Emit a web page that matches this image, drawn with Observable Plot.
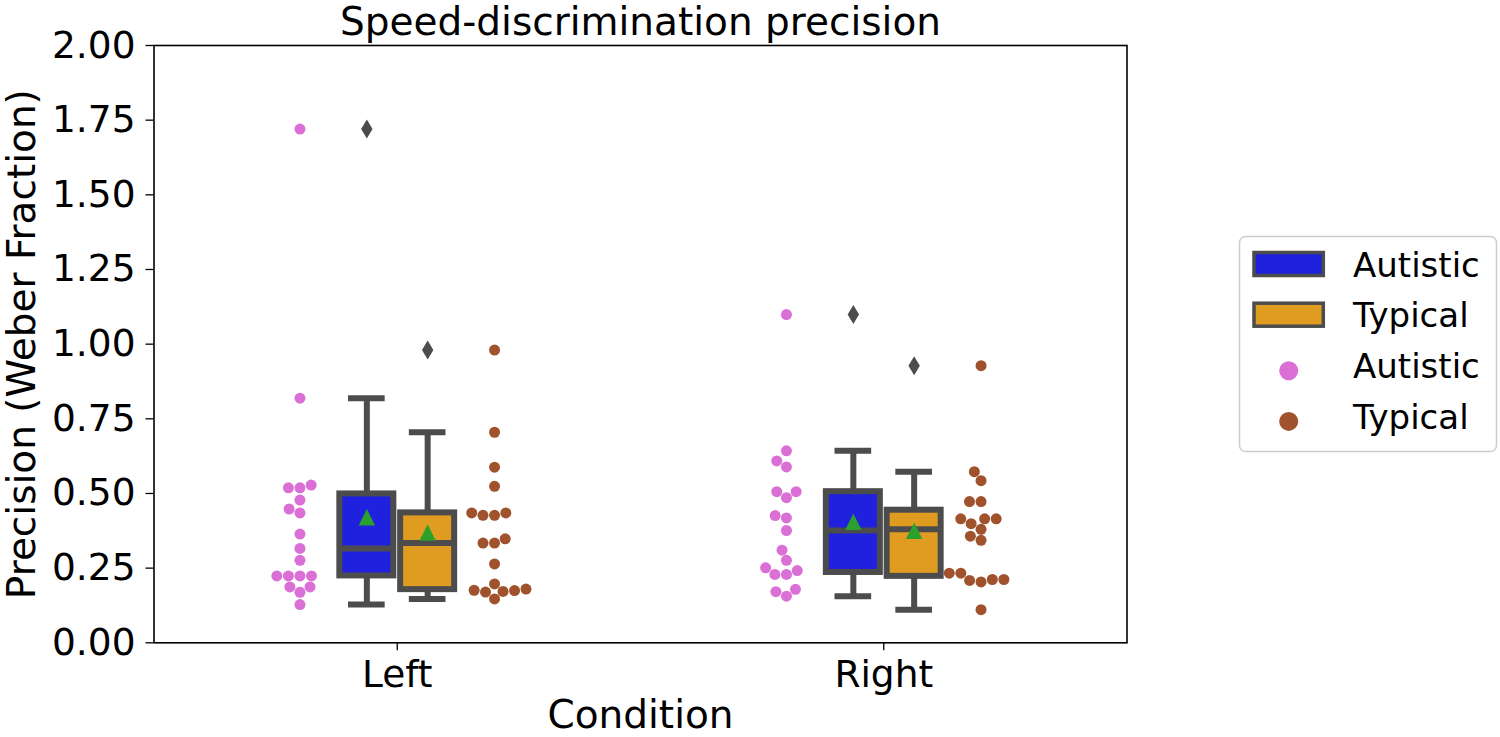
<!DOCTYPE html>
<html><head><meta charset="utf-8">
<script src="https://cdn.jsdelivr.net/npm/d3@7"></script>
<script src="https://cdn.jsdelivr.net/npm/@observablehq/plot@0.6"></script>
<style>
body{margin:0;background:#fff}
#wrap{position:relative;width:1500px;height:737px}
#legend{position:absolute;left:0;top:0;pointer-events:none}
</style>
</head><body><div id="wrap"></div>
<script>
// ---- data ----
const conditions = ["Left", "Right"];
const groups = ["Autistic", "Typical"];
const leftAutistic  = [1.72, 0.819, 0.528, 0.519, 0.519, 0.478, 0.448, 0.435, 0.364, 0.316, 0.276, 0.224, 0.224, 0.224, 0.224, 0.187, 0.187, 0.169, 0.128];
const leftTypical   = [0.98, 0.705, 0.588, 0.524, 0.435, 0.435, 0.427, 0.427, 0.348, 0.334, 0.334, 0.264, 0.197, 0.180, 0.176, 0.175, 0.172, 0.170, 0.147];
const rightAutistic = [1.099, 0.643, 0.609, 0.589, 0.506, 0.506, 0.486, 0.426, 0.418, 0.376, 0.310, 0.276, 0.251, 0.242, 0.229, 0.229, 0.179, 0.171, 0.156];
const rightTypical  = [0.928, 0.573, 0.543, 0.473, 0.473, 0.415, 0.415, 0.415, 0.399, 0.380, 0.357, 0.343, 0.233, 0.233, 0.212, 0.212, 0.209, 0.204, 0.111];
const yTicks = [0, 0.25, 0.5, 0.75, 1, 1.25, 1.5, 1.75, 2];
const title = "Speed-discrimination precision";
const xLabel = "Condition";
const yLabel = "Precision (Weber Fraction)";

// ---- styles ----
const boxColors = ["#2020df", "#df9c20"];
const dotColors = ["#da70d6", "#a0522d"];
const lineGray = "#4c4c4c";
const meanGreen = "#2ca02c";
const FONT = "DejaVu Sans";
const TICK_FS = 37.5, LABEL_FS = 39, TITLE_FS = 39, LEGEND_FS = 34;

const values = [[leftAutistic, leftTypical], [rightAutistic, rightTypical]];

const W = 1500, H = 737, ML = 153.5, MR = 373.5, MT = 45, MB = 94.7;
const yPx = d3.scaleLinear([0, 2], [H - MB, MT]);
const pxPerUnitX = (W - ML - MR) / 2;
const swarmOffset = 0.2, boxOffset = 0.0625, boxHalf = 0.0555, capHalf = 0.0315;
const D = 11; // swarm point spacing in px

function beeswarm(vals) {
  const pts = vals.slice().sort((a, b) => a - b).map(v => ({v, py: yPx(v), px: 0}));
  const placed = [];
  for (const p of pts) {
    const nb = placed.filter(q => Math.abs(q.py - p.py) < D);
    const cand = [0];
    for (const q of nb) {
      const dy = p.py - q.py;
      const dx = Math.sqrt(Math.max(D * D - dy * dy, 0)) * 1.05;
      cand.push(q.px - dx, q.px + dx);
    }
    const order = cand.map((c, i) => [c, i]).sort((a, b) => Math.abs(a[0]) - Math.abs(b[0]) || a[1] - b[1]);
    let chosen = 0;
    for (const [c] of order) {
      if (nb.every(q => (q.px - c) ** 2 + (q.py - p.py) ** 2 >= D * D - 1e-6)) { chosen = c; break; }
    }
    p.px = chosen;
    placed.push(p);
  }
  return pts;
}

const stats = [], outliers = [], swarm = [];
conditions.forEach((c, i) => groups.forEach((g, j) => {
  const vals = values[i][j];
  const s = vals.slice().sort(d3.ascending);
  const q1 = d3.quantileSorted(s, 0.25), med = d3.quantileSorted(s, 0.5), q3 = d3.quantileSorted(s, 0.75);
  const iqr = q3 - q1;
  const lo = d3.min(s.filter(v => v >= q1 - 1.5 * iqr));
  const hi = d3.max(s.filter(v => v <= q3 + 1.5 * iqr));
  const xc = i + (j ? boxOffset : -boxOffset);
  stats.push({xc, q1, med, q3, lo, hi, mean: d3.mean(s), fill: boxColors[j]});
  s.filter(v => v < lo || v > hi).forEach(v => outliers.push({x: xc, v}));
  beeswarm(vals).forEach(p => swarm.push({x: i + (j ? swarmOffset : -swarmOffset) + p.px / pxPerUnitX, v: p.v, fill: dotColors[j]}));
}));

const triangleUp = {draw(ctx, size) { const a = Math.sqrt(size / 2); ctx.moveTo(0, -a); ctx.lineTo(a, a); ctx.lineTo(-a, a); ctx.closePath(); }};
const thinDiamond = {draw(ctx, size) { const b = Math.sqrt(size / 1.2), a = 0.6 * b; ctx.moveTo(0, -b); ctx.lineTo(a, 0); ctx.lineTo(0, b); ctx.lineTo(-a, 0); ctx.closePath(); }};

const lineOpts = {stroke: lineGray, strokeWidth: 6};

const chart = Plot.plot({
  width: W, height: H,
  marginLeft: ML, marginRight: MR, marginTop: MT, marginBottom: MB,
  style: {fontFamily: FONT, fontSize: TICK_FS + "px", background: "white", color: "black", overflow: "visible"},
  x: {domain: [-0.5, 1.5]},
  y: {domain: [0, 2]},
  color: {type: "identity"},
  marks: [
    Plot.axisY({ticks: yTicks, tickFormat: d3.format(".2f"), tickSize: 8, tickPadding: 10.5, label: null, fontSize: TICK_FS, strokeWidth: 1.3}),
    Plot.axisX({ticks: [0, 1], tickFormat: i => conditions[i], tickSize: 8, tickPadding: 9.8, label: null, fontSize: TICK_FS, strokeWidth: 1.3}),
    Plot.ruleX(stats, {x: "xc", y1: "q3", y2: "hi", ...lineOpts}),
    Plot.ruleX(stats, {x: "xc", y1: "lo", y2: "q1", ...lineOpts}),
    Plot.ruleY(stats, {y: "hi", x1: d => d.xc - capHalf, x2: d => d.xc + capHalf, ...lineOpts, strokeLinecap: "square"}),
    Plot.ruleY(stats, {y: "lo", x1: d => d.xc - capHalf, x2: d => d.xc + capHalf, ...lineOpts, strokeLinecap: "square"}),
    Plot.rect(stats, {x1: d => d.xc - boxHalf, x2: d => d.xc + boxHalf, y1: "q1", y2: "q3", fill: "fill", ...lineOpts}),
    Plot.ruleY(stats, {y: "med", x1: d => d.xc - boxHalf, x2: d => d.xc + boxHalf, ...lineOpts}),
    Plot.dot(stats, {x: "xc", y: "mean", symbol: triangleUp, r: 6.54, fill: meanGreen}),
    Plot.dot(outliers, {x: "x", y: "v", symbol: thinDiamond, r: 5.87, fill: lineGray}),
    Plot.dot(swarm, {x: "x", y: "v", r: 5.5, fill: "fill"}),
    Plot.frame({stroke: "black", strokeWidth: 1.6}),
    Plot.text([title], {frameAnchor: "top", dy: -10.5, lineAnchor: "bottom", fontSize: TITLE_FS, fill: "black"}),
    Plot.text([xLabel], {frameAnchor: "bottom", dy: 85.5, lineAnchor: "bottom", fontSize: LABEL_FS, fill: "black"}),
    Plot.text([yLabel], {frameAnchor: "left", rotate: -90, dx: -119.5, lineAnchor: "bottom", textAnchor: "middle", fontSize: LABEL_FS, fill: "black"})
  ]
});
document.getElementById("wrap").appendChild(chart);

// ---- legend ----
const lg = d3.select("#wrap").append("svg").attr("id", "legend").attr("width", W).attr("height", H)
  .style("font-family", FONT).style("font-size", LEGEND_FS + "px");
lg.append("rect").attr("x", 1239.5).attr("y", 236.5).attr("width", 257).attr("height", 215).attr("rx", 6)
  .attr("fill", "white").attr("stroke", "#cccccc").attr("stroke-width", 1.5);
const entries = [
  {type: "box", label: groups[0], color: boxColors[0]},
  {type: "box", label: groups[1], color: boxColors[1]},
  {type: "dot", label: groups[0], color: dotColors[0]},
  {type: "dot", label: groups[1], color: dotColors[1]}
];
entries.forEach((e, k) => {
  const base = 276.7 + k * 50.7;
  const cy = base - 12.7;
  if (e.type === "box") {
    lg.append("rect").attr("x", 1254).attr("y", cy - 11.5).attr("width", 69.3).attr("height", 23)
      .attr("fill", e.color).attr("stroke", lineGray).attr("stroke-width", 3.5);
  } else {
    lg.append("circle").attr("cx", 1288.7).attr("cy", cy + 5.3).attr("r", 9.5).attr("fill", e.color);
  }
  lg.append("text").attr("x", 1353).attr("y", base).attr("fill", "black").text(e.label);
});
</script>
</body></html>
